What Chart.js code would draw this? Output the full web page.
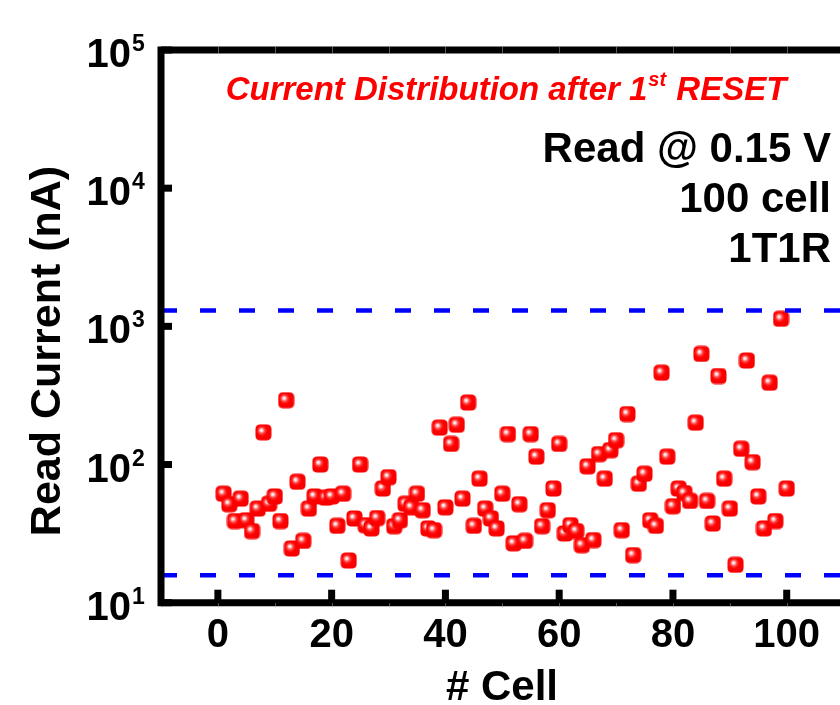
<!DOCTYPE html>
<html>
<head>
<meta charset="utf-8">
<script src="https://cdn.jsdelivr.net/npm/chart.js@4.4.1/dist/chart.umd.min.js"></script>
<style>
  html, body { margin: 0; padding: 0; background: #ffffff; overflow: hidden; width: 840px; height: 705px; }
  canvas { display: block; }
</style>
</head>
<body>
<canvas id="c" width="870" height="705"></canvas>
<script>
// ---- data ----
const cellNumbers = [
  1,2,3,4,5,6,7,8,9,10,11,12,13,14,15,16,17,18,19,20,
  21,22,23,24,25,26,27,28,29,30,31,32,33,34,35,36,37,38,39,40,
  41,42,43,44,45,46,47,48,49,50,51,52,53,54,55,56,57,58,59,60,
  61,62,63,64,65,66,67,68,69,70,71,72,73,74,75,76,77,78,79,80,
  81,82,83,84,85,86,87,88,89,90,91,92,93,94,95,96,97,98,99,100
];
const readCurrent = [
  61.5, 51.6, 39, 56.6, 39.5, 33, 48, 171, 52, 58.8,
  39, 292, 24.7, 75, 28, 48, 58.8, 100, 57.6, 58.8,
  36, 61.5, 20.2, 40.7, 100, 36.4, 34.5, 41, 67, 81,
  35.8, 39.5, 52, 49, 61.5, 46.7, 34.5, 33.5, 185, 49,
  141, 194, 56.6, 281, 36, 79, 48, 40.7, 34.5, 61.5,
  166, 26.9, 51.6, 28, 166, 114, 35.8, 46.7, 67, 141,
  31.7, 36.4, 33, 26.1, 97, 28.4, 119, 79, 127, 150,
  33.5, 232, 22.1, 72.6, 85.7, 39.5, 36, 462, 114, 49.9,
  67, 62.2, 54.5, 201, 632, 54.5, 37.4, 437, 79, 48,
  18.8, 130, 566, 104, 58.8, 34.5, 391, 39, 1135, 67
];
const upperLimit = 1300;   // blue dashed line (nA)
const lowerLimit = 15.8;   // blue dashed line (nA)
const xRange = [-10, 110];
const yRange = [10, 100000];
const xTickValues = [0, 20, 40, 60, 80, 100];
const xTickLabels = ['0', '20', '40', '60', '80', '100'];
const xMinorTickValues = [-10, 10, 30, 50, 70, 90, 110];
const yTickValues = [10, 100, 1000, 10000, 100000];
const yTickExponents = ['1', '2', '3', '4', '5'];
const titleMain = 'Current Distribution after 1';
const titleSup = 'st';
const titleEnd = ' RESET';
const infoLines = ['Read @ 0.15 V', '100 cell', '1T1R'];
const xTitle = '# Cell';
const yTitle = 'Read Current (nA)';

// ---- marker image (glossy red rounded square) ----
function makeMarker(size) {
  const c = document.createElement('canvas');
  c.width = size; c.height = size;
  const g = c.getContext('2d');
  const r = size * 0.3;
  const p = 0.5, s = size - 1;
  g.beginPath();
  g.moveTo(p + r, p);
  g.lineTo(p + s - r, p);
  g.quadraticCurveTo(p + s, p, p + s, p + r);
  g.lineTo(p + s, p + s - r);
  g.quadraticCurveTo(p + s, p + s, p + s - r, p + s);
  g.lineTo(p + r, p + s);
  g.quadraticCurveTo(p, p + s, p, p + s - r);
  g.lineTo(p, p + r);
  g.quadraticCurveTo(p, p, p + r, p);
  g.closePath();
  const grad = g.createRadialGradient(size * 0.37, size * 0.37, 0, size * 0.46, size * 0.46, size * 0.75);
  grad.addColorStop(0.0, '#ffffff');
  grad.addColorStop(0.09, '#ffe0e0');
  grad.addColorStop(0.25, '#ff4040');
  grad.addColorStop(0.42, '#ff0000');
  grad.addColorStop(0.85, '#f40000');
  grad.addColorStop(1.0, '#d00000');
  g.fillStyle = grad;
  g.fill();
  return c;
}
const marker = makeMarker(17);

const FONT = '"Liberation Sans", Arial, Helvetica, sans-serif';

const decorPlugin = {
  id: 'decor',
  afterDatasetsDraw(chart) {
    const { ctx, chartArea: a, scales } = chart;
    const xs = scales.x, ys = scales.y;
    ctx.save();
    // frame
    ctx.strokeStyle = '#000000';
    ctx.lineWidth = 7;
    ctx.lineCap = 'square';
    ctx.beginPath();
    ctx.moveTo(chart.width + 10, a.top);
    ctx.lineTo(a.left, a.top);
    ctx.lineTo(a.left, a.bottom);
    ctx.lineTo(chart.width + 10, a.bottom);
    ctx.stroke();
    // faint minor marks on the frame
    ctx.strokeStyle = 'rgba(150,150,150,0.6)';
    ctx.lineWidth = 1;
    xMinorTickValues.concat(xTickValues).forEach(v => {
      const px = Math.round(xs.getPixelForValue(v)) + 0.5;
      ctx.beginPath();
      ctx.moveTo(px, a.top - 3); ctx.lineTo(px, a.top + 3);
      ctx.moveTo(px, a.bottom + 1); ctx.lineTo(px, a.bottom + 4);
      ctx.stroke();
    });
    // x major ticks (inward)
    ctx.fillStyle = '#000000';
    xTickValues.forEach(v => {
      const px = xs.getPixelForValue(v);
      ctx.fillRect(px - 3.5, a.bottom - 13, 7, 13);
    });
    // y major ticks (inward)
    yTickValues.forEach(v => {
      const py = ys.getPixelForValue(v);
      ctx.fillRect(a.left, py - 3.5, 11, 7);
    });
    // x tick labels
    ctx.font = 'bold 40px ' + FONT;
    ctx.textAlign = 'center';
    ctx.textBaseline = 'alphabetic';
    xTickValues.forEach((v, i) => {
      const px = xs.getPixelForValue(v);
      ctx.fillText(xTickLabels[i], px, 647);
    });
    // y tick labels 10^n
    yTickValues.forEach((v, i) => {
      const py = ys.getPixelForValue(v);
      ctx.font = 'bold 40px ' + FONT;
      ctx.textAlign = 'right';
      ctx.fillText('10', 131, py + 17);
      ctx.font = 'bold 23px ' + FONT;
      ctx.textAlign = 'left';
      ctx.fillText(yTickExponents[i], 132, py + 1);
    });
    // axis titles
    ctx.font = 'bold 42px ' + FONT;
    ctx.textAlign = 'center';
    ctx.fillText(xTitle, (a.left + 843) / 2, 700);
    ctx.save();
    ctx.translate(60, 351);
    ctx.rotate(-Math.PI / 2);
    ctx.font = 'bold 43px ' + FONT;
    ctx.textAlign = 'center';
    ctx.fillText(yTitle, 0, 0);
    ctx.restore();
    // red title
    ctx.fillStyle = '#ff0000';
    ctx.textAlign = 'left';
    const mainFont = 'italic bold 33px ' + FONT;
    const supFont = 'italic bold 20px ' + FONT;
    ctx.font = mainFont;
    const w1 = ctx.measureText(titleMain).width;
    const w3 = ctx.measureText(titleEnd).width;
    ctx.font = supFont;
    const w2 = ctx.measureText(titleSup).width;
    const total = w1 + w2 + 2 + w3;
    let tx = 506 - total / 2;
    const tb = 100;
    ctx.font = mainFont;
    ctx.fillText(titleMain, tx, tb);
    tx += w1 + 1;
    ctx.font = supFont;
    ctx.fillText(titleSup, tx, tb - 14);
    tx += w2 + 1;
    ctx.font = mainFont;
    ctx.fillText(titleEnd, tx, tb);
    // info text
    ctx.fillStyle = '#000000';
    ctx.textAlign = 'right';
    ctx.font = 'bold 42px ' + FONT;
    const baselines = [162, 212, 262];
    infoLines.forEach((t, i) => ctx.fillText(t, 831, baselines[i]));
    ctx.restore();
  }
};

new Chart(document.getElementById('c'), {
  type: 'scatter',
  data: {
    datasets: [
      {
        label: 'upper',
        data: [{ x: xRange[0], y: upperLimit }, { x: xRange[1], y: upperLimit }],
        showLine: true,
        borderColor: '#0000ff',
        borderWidth: 4.5,
        borderDash: [16, 23],
        pointRadius: 0,
        order: 0
      },
      {
        label: 'lower',
        data: [{ x: xRange[0], y: lowerLimit }, { x: xRange[1], y: lowerLimit }],
        showLine: true,
        borderColor: '#0000ff',
        borderWidth: 4.5,
        borderDash: [16, 23],
        pointRadius: 0,
        order: 0
      },
      {
        label: 'Read Current',
        data: cellNumbers.map((c, i) => ({ x: c, y: readCurrent[i] })),
        pointStyle: marker,
        pointRadius: 8.5,
        order: 1
      }
    ]
  },
  options: {
    responsive: false,
    animation: false,
    devicePixelRatio: 1,
    layout: { padding: { left: 161, top: 50, right: 26.4, bottom: 102.3 } },
    plugins: { legend: { display: false }, tooltip: { enabled: false } },
    scales: {
      x: { type: 'linear', min: xRange[0], max: xRange[1], display: false },
      y: { type: 'logarithmic', min: yRange[0], max: yRange[1], display: false }
    }
  },
  plugins: [decorPlugin]
});
</script>
</body>
</html>
